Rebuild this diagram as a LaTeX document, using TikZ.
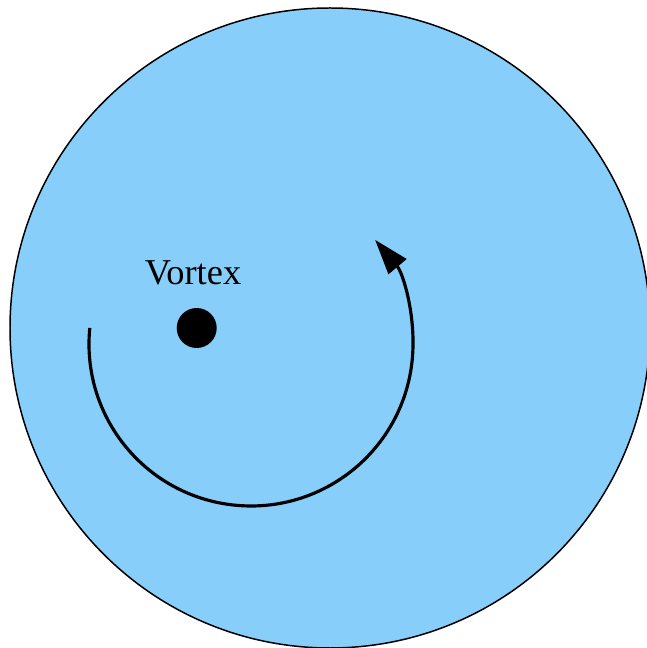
\documentclass[tikz,border=0pt]{standalone}
\usepackage{fontspec}
\setmainfont{Liberation Serif}
\usepackage{tikz}
\usetikzlibrary{arrows.meta}
\definecolor{diskblue}{RGB}{135,206,250}

\begin{document}
\begin{tikzpicture}[
  every node/.style={font=\fontsize{20.7}{24}\selectfont},
  disk/.style={draw=black, fill=diskblue, line width=0.85pt},
  core/.style={circle, fill=black, inner sep=0pt, minimum size=0.80cm},
  arr/.style={-{Triangle[length=0.70cm, width=0.46cm]}, line width=1.8pt},
]
\useasboundingbox (0,0) rectangle (12.92,12.96);

% ── fluid disk
\draw[disk] (6.60,6.40) circle[radius=6.40];

% ── vortex core + label
\node[core]           at (3.934, 6.40)  (vortex) {};
\node[anchor=base]    at (3.86, 7.274)  (label)  {Vortex};

% ── circulation
\coordinate (arcstart) at (1.796, 6.402);
\draw[arr] (arcstart) arc[start angle=174.3, end angle=400, radius=3.24];

\end{tikzpicture}
\end{document}
